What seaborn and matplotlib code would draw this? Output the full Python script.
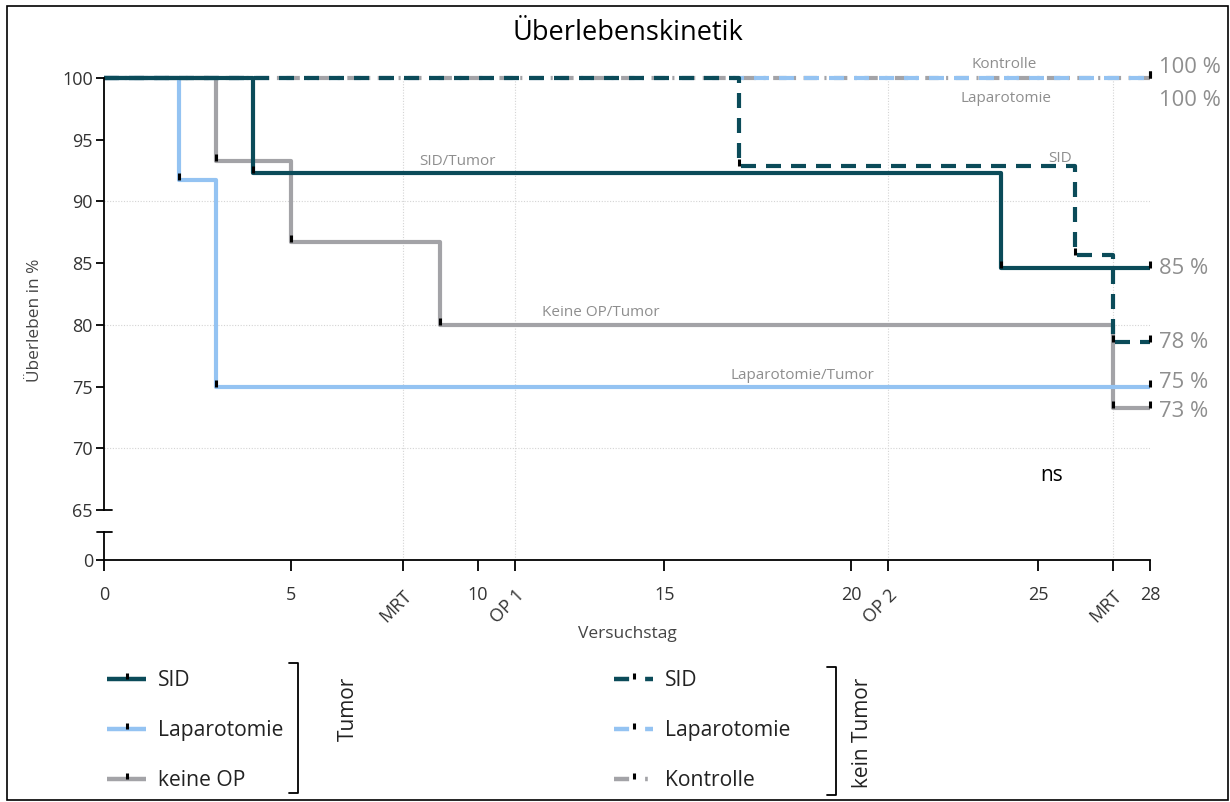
import numpy as np
import pandas as pd
import matplotlib
matplotlib.use("Agg")
import matplotlib.pyplot as plt
import seaborn as sns
from matplotlib.path import Path
from matplotlib.lines import Line2D
from matplotlib.patches import Rectangle

# ---------------- data ----------------
sid_t_time = [0, 4, 24, 28]
sid_t_surv = [100, 92.3, 84.6, 84.6]
lap_t_time = [0, 2, 3, 28]
lap_t_surv = [100, 91.7, 75.0, 75.0]
kop_t_time = [0, 3, 5, 9, 27, 28]
kop_t_surv = [100, 93.3, 86.7, 80.0, 73.3, 73.3]
sid_k_time = [0, 17, 26, 27, 28]
sid_k_surv = [100, 92.9, 85.7, 78.6, 78.6]
lap_k_time = [0, 28]
lap_k_surv = [100, 100]
kon_time = [0, 28]
kon_surv = [100, 100]

xtick_vals = [0, 5, 8, 10, 11, 15, 20, 21, 25, 27, 28]
xtick_labels = ["0", "5", "MRT", "10", "OP 1", "15", "20", "OP 2", "25", "MRT", "28"]
event_ticks = [8, 11, 21, 27]
ytick_vals = [65, 70, 75, 80, 85, 90, 95, 100]

end_labels = ["100 %", "100 %", "85 %", "78 %", "75 %", "73 %"]
end_values = [100, 100, 84.6, 78.6, 75.0, 73.3]

curve_labels = ["SID/Tumor", "Keine OP/Tumor", "Laparotomie/Tumor", "SID", "Kontrolle", "Laparotomie"]
curve_label_x = [9.45, 13.3, 18.7, 25.6, 24.1, 24.15]
curve_label_y = [93.2, 81.0, 75.9, 93.5, 101.1, 98.3]

# ---------------- style ----------------
sns.set_theme(style="white")
plt.rcParams["font.family"] = ["Open Sans", "DejaVu Sans"]
plt.rcParams["axes.grid"] = False

TEAL = "#0b4b59"
BLUE = "#94c3f2"
GRAY = "#a3a3a7"
TXT = "#333333"
LBL = "#8e8e8e"

W, H = 1230, 802
fig = plt.figure(figsize=(W / 100, H / 100), dpi=100)

def fx(px):
    return px / W

def fy(py):
    return 1 - py / H

x_left, x_right = 104, 1150
ppu = (510 - 78) / 35.0  # pixels per % unit
top_px, brk_px, bot_px = 60, 532, 560
y_top = 100 + (78 - top_px) / ppu
y_bot = 100 - (brk_px - 78) / ppu

ax = fig.add_axes([fx(x_left), fy(brk_px), fx(x_right - x_left), (brk_px - top_px) / H])
axb = fig.add_axes([fx(x_left), fy(bot_px), fx(x_right - x_left), (bot_px - brk_px) / H])

for a in (ax, axb):
    a.set_xlim(0, 28)
    a.set_facecolor("none")
    a.grid(False)
    for s in ("top", "right"):
        a.spines[s].set_visible(False)
ax.set_ylim(y_bot, y_top)
axb.set_ylim(0, (bot_px - brk_px) / ppu)
ax.spines["bottom"].set_visible(False)
ax.spines["left"].set_bounds(65, 100)
for a in (ax, axb):
    a.spines["left"].set_color("black")
    a.spines["left"].set_linewidth(1.3)
axb.spines["bottom"].set_color("black")
axb.spines["bottom"].set_linewidth(1.3)

# grid
ax.vlines(event_ticks, y_bot, 100, colors="#d4d4d4", linestyles=(0, (1, 1.5)), lw=0.8, zorder=0)
for x in event_ticks:
    axb.axvline(x, color="#d4d4d4", ls=(0, (1, 1.5)), lw=0.8, zorder=0)
ax.hlines([90, 80, 70], 0, 28, colors="#d4d4d4", linestyles=(0, (1, 1.5)), lw=0.8, zorder=0)

# ticks
ax.set_yticks(ytick_vals)
ax.set_yticklabels([str(v) for v in ytick_vals])
ax.set_xticks([])
ax.tick_params(axis="y", length=6, width=1.3, color="black", labelsize=13, labelcolor=TXT, pad=2, left=True)
axb.set_yticks([0])
axb.set_yticklabels(["0"])
axb.tick_params(axis="y", length=6, width=1.3, color="black", labelsize=13, labelcolor=TXT, pad=2, left=True)
axb.set_xticks(xtick_vals)
axb.set_xticklabels(xtick_labels)
axb.tick_params(axis="x", length=8, width=1.3, color="black", labelsize=13, labelcolor=TXT, pad=11, bottom=True)
for lab, txt in zip(axb.get_xticklabels(), xtick_labels):
    if not txt.isdigit():
        lab.set_rotation(45)
        lab.set_ha("right")
        lab.set_va("top")
        lab.set_rotation_mode("anchor")

# axis break caps
ax.plot([0, 8 / (x_right - x_left)], [65, 65], transform=ax.get_yaxis_transform(),
        color="black", lw=1.3, clip_on=False)
axb.plot([-7 / (x_right - x_left), 8 / (x_right - x_left)], [1, 1], transform=axb.transAxes,
         color="black", lw=1.3, clip_on=False)

# censor tick marker (vertical line from centre upward)
tick_marker = Path([(0, 0), (0, 1)], [Path.MOVETO, Path.LINETO])

series = [
    (kon_time, kon_surv, GRAY, (0, (3.2, 1.8, 0.5, 1.8))),
    (lap_k_time, lap_k_surv, BLUE, (0, (3.6, 2.4))),
    (kop_t_time, kop_t_surv, GRAY, "-"),
    (lap_t_time, lap_t_surv, BLUE, "-"),
    (sid_k_time, sid_k_surv, TEAL, (0, (3.6, 2.4))),
    (sid_t_time, sid_t_surv, TEAL, "-"),
]
for t, s, c, ls in series:
    df = pd.DataFrame({"t": t, "s": s})
    sns.lineplot(data=df, x="t", y="s", ax=ax, color=c, lw=3, linestyle=ls,
                 drawstyle="steps-post", estimator=None, sort=False, clip_on=False,
                 solid_capstyle="butt", dash_capstyle="butt")
for t, s, c, ls in series:
    dfm = pd.DataFrame({"t": t[1:], "s": s[1:]})
    sns.scatterplot(data=dfm, x="t", y="s", ax=ax, marker=tick_marker, s=110,
                    color="black", edgecolor="black", linewidth=2.2, clip_on=False, zorder=5)
ax.set_xlabel("")
ax.set_ylabel("")
ax.grid(False)
axb.grid(False)

# curve labels
for txt, x, y in zip(curve_labels, curve_label_x, curve_label_y):
    ax.text(x, y, txt, color=LBL, fontsize=11, ha="center", va="center")

# end percentages
end_offsets = [0.85, -1.8, 0.0, 0.0, 0.35, -0.35]
for txt, v, o in zip(end_labels, end_values, end_offsets):
    ax.text(28.25, v + o, txt, color=LBL, fontsize=15.8, ha="left", va="center", clip_on=False)

ax.text(25.37, 67.8, "ns", color="black", fontsize=15, ha="center", va="center")

# titles / axis labels
fig.text(fx(628), fy(33), "Überlebenskinetik", ha="center", va="center", fontsize=19.5, color="black")
fig.text(fx(627), fy(634), "Versuchstag", ha="center", va="center", fontsize=12.5, color="#444444")
fig.text(fx(35), fy(320), "Überleben in %", ha="center", va="center", fontsize=12.4,
         color="#444444", rotation=90)

# legends
def handle(c, ls):
    return Line2D([], [], color=c, lw=3.2, linestyle=ls, marker=tick_marker, markersize=9,
                  markeredgecolor="black", markerfacecolor="black", markeredgewidth=2.2,
                  solid_capstyle="butt", dash_capstyle="butt")

h1 = [handle(TEAL, "-"), handle(BLUE, "-"), handle(GRAY, "-")]
h2 = [handle(TEAL, (0, (3.4, 3.6))), handle(BLUE, (0, (3.4, 3.6))), handle(GRAY, (0, (3.4, 3.6, 0.6, 10)))]
leg_kw = dict(frameon=False, fontsize=15.2, handlelength=1.85, handletextpad=0.55,
              labelspacing=1.38, borderpad=0, borderaxespad=0, loc="upper left", labelcolor="#222222")
l1 = fig.legend(h1, ["SID", "Laparotomie", "keine OP"], bbox_to_anchor=(fx(107), fy(670)), **leg_kw)
l2 = fig.legend(h2, ["SID", "Laparotomie", "Kontrolle"], bbox_to_anchor=(fx(614), fy(670)), **leg_kw)

# brackets
def bracket(xp, y0, y1):
    fig.add_artist(Line2D([fx(xp - 9), fx(xp), fx(xp), fx(xp - 9)],
                          [fy(y0), fy(y0), fy(y1), fy(y1)], color="black", lw=1.3,
                          transform=fig.transFigure))

bracket(298, 663, 793)
bracket(836, 667, 795)
fig.text(fx(348), fy(709), "Tumor", rotation=90, ha="center", va="center", fontsize=15, color="#222222")
fig.text(fx(862), fy(733), "kein Tumor", rotation=90, ha="center", va="center", fontsize=15, color="#222222")

# frame
fig.add_artist(Rectangle((fx(7), fy(800)), fx(1228 - 7), (800 - 6) / H, fill=False,
                         edgecolor="black", lw=1.2, transform=fig.transFigure))

fig.savefig("out.png", dpi=100)
